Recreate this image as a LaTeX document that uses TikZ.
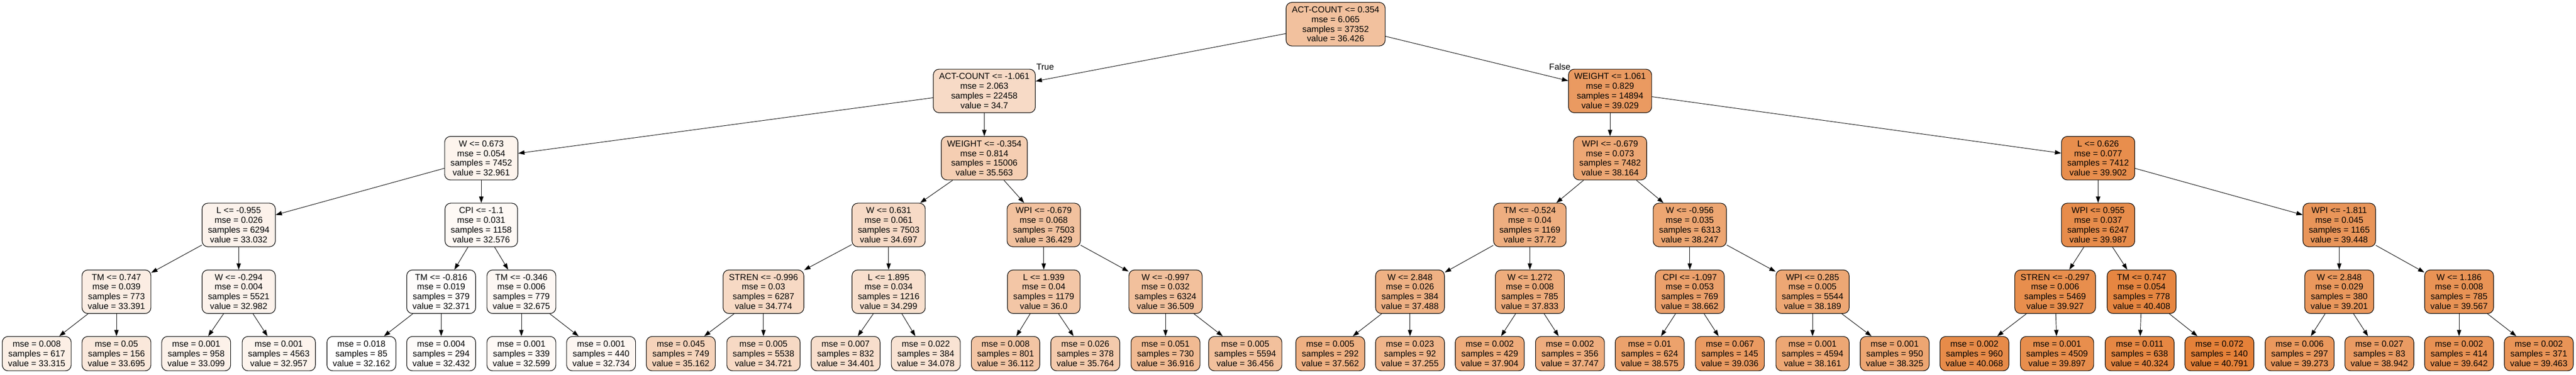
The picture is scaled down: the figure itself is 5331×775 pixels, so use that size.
\documentclass[tikz,border=0pt]{standalone}
\usepackage{fontspec}
\setmainfont{Liberation Sans}
\usetikzlibrary{arrows.meta}
\definecolor{treeOrange}{RGB}{229,129,57}
\begin{document}
\begin{tikzpicture}[x=1pt,y=-1pt,%%
  splitStyle/.style={draw=black,line width=1.2pt,rounded corners=12pt,align=center,
    inner xsep=12pt,inner ysep=0pt,minimum height=90pt,font=\fontsize{18}{20}\selectfont},
  leafStyle/.style={splitStyle,minimum height=71pt},
  tone/.style={fill=treeOrange!#1!white},
  edgeStyle/.style={-{Triangle[length=13pt,width=9pt]},line width=1pt},
  labelStyle/.style={font=\fontsize{18}{20}\selectfont,inner sep=0pt}
]
\useasboundingbox (0,0) rectangle (5331,775);
%%
%% Root and first split.
\node (r) at (2764,50) [splitStyle,tone=49] {ACT-COUNT <= 0.354\\mse = 6.065\\samples = 37352\\value = 36.426};
\node (rL) at (2037,188) [splitStyle,tone=29] {ACT-COUNT <= -1.061\\mse = 2.063\\samples = 22458\\value = 34.7};
\node (rR) at (3332,188) [splitStyle,tone=80] {WEIGHT <= 1.061\\mse = 0.829\\samples = 14894\\value = 39.029};
%%
%% Depth 2.
\node (rLL) at (996,327) [splitStyle,tone=9] {W <= 0.673\\mse = 0.054\\samples = 7452\\value = 32.961};
\node (rLR) at (2037,327) [splitStyle,tone=39] {WEIGHT <= -0.354\\mse = 0.814\\samples = 15006\\value = 35.563};
\node (rRL) at (3332,327) [splitStyle,tone=70] {WPI <= -0.679\\mse = 0.073\\samples = 7482\\value = 38.164};
\node (rRR) at (4342,327) [splitStyle,tone=90] {L <= 0.626\\mse = 0.077\\samples = 7412\\value = 39.902};
%%
%% Depth 3.
\node (rLLL) at (494,465) [splitStyle,tone=10] {L <= -0.955\\mse = 0.026\\samples = 6294\\value = 33.032};
\node (rLLR) at (996,465) [splitStyle,tone=5] {CPI <= -1.1\\mse = 0.031\\samples = 1158\\value = 32.576};
\node (rLRL) at (1839,465) [splitStyle,tone=29] {W <= 0.631\\mse = 0.061\\samples = 7503\\value = 34.697};
\node (rLRR) at (2160,465) [splitStyle,tone=49] {WPI <= -0.679\\mse = 0.068\\samples = 7503\\value = 36.429};
\node (rRLL) at (3166,465) [splitStyle,tone=64] {TM <= -0.524\\mse = 0.04\\samples = 1169\\value = 37.72};
\node (rRLR) at (3497,465) [splitStyle,tone=71] {W <= -0.956\\mse = 0.035\\samples = 6313\\value = 38.247};
\node (rRRL) at (4342,465) [splitStyle,tone=91] {WPI <= 0.955\\mse = 0.037\\samples = 6247\\value = 39.987};
\node (rRRR) at (4841,465) [splitStyle,tone=84] {WPI <= -1.811\\mse = 0.045\\samples = 1165\\value = 39.448};
%%
%% Depth 4.
\node (rLLLL) at (241,603) [splitStyle,tone=14] {TM <= 0.747\\mse = 0.039\\samples = 773\\value = 33.391};
\node (rLLLR) at (494,603) [splitStyle,tone=10] {W <= -0.294\\mse = 0.004\\samples = 5521\\value = 32.982};
\node (rLLRL) at (913,603) [splitStyle,tone=2] {TM <= -0.816\\mse = 0.019\\samples = 379\\value = 32.371};
\node (rLLRR) at (1079,603) [splitStyle,tone=6] {TM <= -0.346\\mse = 0.006\\samples = 779\\value = 32.675};
\node (rLRLL) at (1580,603) [splitStyle,tone=30] {STREN <= -0.996\\mse = 0.03\\samples = 6287\\value = 34.774};
\node (rLRLR) at (1839,603) [splitStyle,tone=25] {L <= 1.895\\mse = 0.034\\samples = 1216\\value = 34.299};
\node (rLRRL) at (2160,603) [splitStyle,tone=45] {L <= 1.939\\mse = 0.04\\samples = 1179\\value = 36.0};
\node (rLRRR) at (2412,603) [splitStyle,tone=50] {W <= -0.997\\mse = 0.032\\samples = 6324\\value = 36.509};
\node (rRLLL) at (2918,603) [splitStyle,tone=62] {W <= 2.848\\mse = 0.026\\samples = 384\\value = 37.488};
\node (rRLLR) at (3166,603) [splitStyle,tone=66] {W <= 1.272\\mse = 0.008\\samples = 785\\value = 37.833};
\node (rRLRL) at (3497,603) [splitStyle,tone=75] {CPI <= -1.097\\mse = 0.053\\samples = 769\\value = 38.662};
\node (rRLRR) at (3751,603) [splitStyle,tone=70] {WPI <= 0.285\\mse = 0.005\\samples = 5544\\value = 38.189};
\node (rRRLL) at (4253,603) [splitStyle,tone=90] {STREN <= -0.297\\mse = 0.006\\samples = 5469\\value = 39.927};
\node (rRRLR) at (4432,603) [splitStyle,tone=96] {TM <= 0.747\\mse = 0.054\\samples = 778\\value = 40.408};
\node (rRRRL) at (4841,603) [splitStyle,tone=82] {W <= 2.848\\mse = 0.029\\samples = 380\\value = 39.201};
\node (rRRRR) at (5089,603) [splitStyle,tone=86] {W <= 1.186\\mse = 0.008\\samples = 785\\value = 39.567};
%%
%% Leaves.
\node (rLLLLL) at (76,731) [leafStyle,tone=13] {mse = 0.008\\samples = 617\\value = 33.315};
\node (rLLLLR) at (241,731) [leafStyle,tone=18] {mse = 0.05\\samples = 156\\value = 33.695};
\node (rLLLRL) at (406,731) [leafStyle,tone=11] {mse = 0.001\\samples = 958\\value = 33.099};
\node (rLLLRR) at (577,731) [leafStyle,tone=9] {mse = 0.001\\samples = 4563\\value = 32.957};
\node (rLLRLL) at (748,731) [leafStyle,tone=0] {mse = 0.018\\samples = 85\\value = 32.162};
\node (rLLRLR) at (913,731) [leafStyle,tone=3] {mse = 0.004\\samples = 294\\value = 32.432};
\node (rLLRRL) at (1079,731) [leafStyle,tone=5] {mse = 0.001\\samples = 339\\value = 32.599};
\node (rLLRRR) at (1244,731) [leafStyle,tone=7] {mse = 0.001\\samples = 440\\value = 32.734};
\node (rLRLLL) at (1409,731) [leafStyle,tone=35] {mse = 0.045\\samples = 749\\value = 35.162};
\node (rLRLLR) at (1580,731) [leafStyle,tone=30] {mse = 0.005\\samples = 5538\\value = 34.721};
\node (rLRLRL) at (1750,731) [leafStyle,tone=26] {mse = 0.007\\samples = 832\\value = 34.401};
\node (rLRLRR) at (1916,731) [leafStyle,tone=22] {mse = 0.022\\samples = 384\\value = 34.078};
\node (rLRRLL) at (2081,731) [leafStyle,tone=46] {mse = 0.008\\samples = 801\\value = 36.112};
\node (rLRRLR) at (2246,731) [leafStyle,tone=42] {mse = 0.026\\samples = 378\\value = 35.764};
\node (rLRRRL) at (2412,731) [leafStyle,tone=55] {mse = 0.051\\samples = 730\\value = 36.916};
\node (rLRRRR) at (2577,731) [leafStyle,tone=50] {mse = 0.005\\samples = 5594\\value = 36.456};
\node (rRLLLL) at (2753,731) [leafStyle,tone=63] {mse = 0.005\\samples = 292\\value = 37.562};
\node (rRLLLR) at (2918,731) [leafStyle,tone=59] {mse = 0.023\\samples = 92\\value = 37.255};
\node (rRLLRL) at (3083,731) [leafStyle,tone=67] {mse = 0.002\\samples = 429\\value = 37.904};
\node (rRLLRR) at (3249,731) [leafStyle,tone=65] {mse = 0.002\\samples = 356\\value = 37.747};
\node (rRLRLL) at (3414,731) [leafStyle,tone=74] {mse = 0.01\\samples = 624\\value = 38.575};
\node (rRLRLR) at (3580,731) [leafStyle,tone=80] {mse = 0.067\\samples = 145\\value = 39.036};
\node (rRLRRL) at (3751,731) [leafStyle,tone=70] {mse = 0.001\\samples = 4594\\value = 38.161};
\node (rRLRRR) at (3921,731) [leafStyle,tone=71] {mse = 0.001\\samples = 950\\value = 38.325};
\node (rRRLLL) at (4086,731) [leafStyle,tone=92] {mse = 0.002\\samples = 960\\value = 40.068};
\node (rRRLLR) at (4257,731) [leafStyle,tone=90] {mse = 0.001\\samples = 4509\\value = 39.897};
\node (rRRLRL) at (4428,731) [leafStyle,tone=95] {mse = 0.011\\samples = 638\\value = 40.324};
\node (rRRLRR) at (4593,731) [leafStyle,tone=100] {mse = 0.072\\samples = 140\\value = 40.791};
\node (rRRRLL) at (4759,731) [leafStyle,tone=82] {mse = 0.006\\samples = 297\\value = 39.273};
\node (rRRRLR) at (4924,731) [leafStyle,tone=79] {mse = 0.027\\samples = 83\\value = 38.942};
\node (rRRRRL) at (5089,731) [leafStyle,tone=87] {mse = 0.002\\samples = 414\\value = 39.642};
\node (rRRRRR) at (5254,731) [leafStyle,tone=85] {mse = 0.002\\samples = 371\\value = 39.463};
%%
%% Branch labels.
\node (trueLabel) at (2163,138) [labelStyle] {True};
\node (falseLabel) at (3228,138) [labelStyle] {False};
%%
%% Edges.
\draw[edgeStyle] (r) -- (rL);
\draw[edgeStyle] (r) -- (rR);
\draw[edgeStyle] (rL) -- (rLL);
\draw[edgeStyle] (rL) -- (rLR);
\draw[edgeStyle] (rR) -- (rRL);
\draw[edgeStyle] (rR) -- (rRR);
\draw[edgeStyle] (rLL) -- (rLLL);
\draw[edgeStyle] (rLL) -- (rLLR);
\draw[edgeStyle] (rLR) -- (rLRL);
\draw[edgeStyle] (rLR) -- (rLRR);
\draw[edgeStyle] (rRL) -- (rRLL);
\draw[edgeStyle] (rRL) -- (rRLR);
\draw[edgeStyle] (rRR) -- (rRRL);
\draw[edgeStyle] (rRR) -- (rRRR);
\draw[edgeStyle] (rLLL) -- (rLLLL);
\draw[edgeStyle] (rLLL) -- (rLLLR);
\draw[edgeStyle] (rLLR) -- (rLLRL);
\draw[edgeStyle] (rLLR) -- (rLLRR);
\draw[edgeStyle] (rLRL) -- (rLRLL);
\draw[edgeStyle] (rLRL) -- (rLRLR);
\draw[edgeStyle] (rLRR) -- (rLRRL);
\draw[edgeStyle] (rLRR) -- (rLRRR);
\draw[edgeStyle] (rRLL) -- (rRLLL);
\draw[edgeStyle] (rRLL) -- (rRLLR);
\draw[edgeStyle] (rRLR) -- (rRLRL);
\draw[edgeStyle] (rRLR) -- (rRLRR);
\draw[edgeStyle] (rRRL) -- (rRRLL);
\draw[edgeStyle] (rRRL) -- (rRRLR);
\draw[edgeStyle] (rRRR) -- (rRRRL);
\draw[edgeStyle] (rRRR) -- (rRRRR);
\draw[edgeStyle] (rLLLL) -- (rLLLLL);
\draw[edgeStyle] (rLLLL) -- (rLLLLR);
\draw[edgeStyle] (rLLLR) -- (rLLLRL);
\draw[edgeStyle] (rLLLR) -- (rLLLRR);
\draw[edgeStyle] (rLLRL) -- (rLLRLL);
\draw[edgeStyle] (rLLRL) -- (rLLRLR);
\draw[edgeStyle] (rLLRR) -- (rLLRRL);
\draw[edgeStyle] (rLLRR) -- (rLLRRR);
\draw[edgeStyle] (rLRLL) -- (rLRLLL);
\draw[edgeStyle] (rLRLL) -- (rLRLLR);
\draw[edgeStyle] (rLRLR) -- (rLRLRL);
\draw[edgeStyle] (rLRLR) -- (rLRLRR);
\draw[edgeStyle] (rLRRL) -- (rLRRLL);
\draw[edgeStyle] (rLRRL) -- (rLRRLR);
\draw[edgeStyle] (rLRRR) -- (rLRRRL);
\draw[edgeStyle] (rLRRR) -- (rLRRRR);
\draw[edgeStyle] (rRLLL) -- (rRLLLL);
\draw[edgeStyle] (rRLLL) -- (rRLLLR);
\draw[edgeStyle] (rRLLR) -- (rRLLRL);
\draw[edgeStyle] (rRLLR) -- (rRLLRR);
\draw[edgeStyle] (rRLRL) -- (rRLRLL);
\draw[edgeStyle] (rRLRL) -- (rRLRLR);
\draw[edgeStyle] (rRLRR) -- (rRLRRL);
\draw[edgeStyle] (rRLRR) -- (rRLRRR);
\draw[edgeStyle] (rRRLL) -- (rRRLLL);
\draw[edgeStyle] (rRRLL) -- (rRRLLR);
\draw[edgeStyle] (rRRLR) -- (rRRLRL);
\draw[edgeStyle] (rRRLR) -- (rRRLRR);
\draw[edgeStyle] (rRRRL) -- (rRRRLL);
\draw[edgeStyle] (rRRRL) -- (rRRRLR);
\draw[edgeStyle] (rRRRR) -- (rRRRRL);
\draw[edgeStyle] (rRRRR) -- (rRRRRR);
\end{tikzpicture}
\end{document}
